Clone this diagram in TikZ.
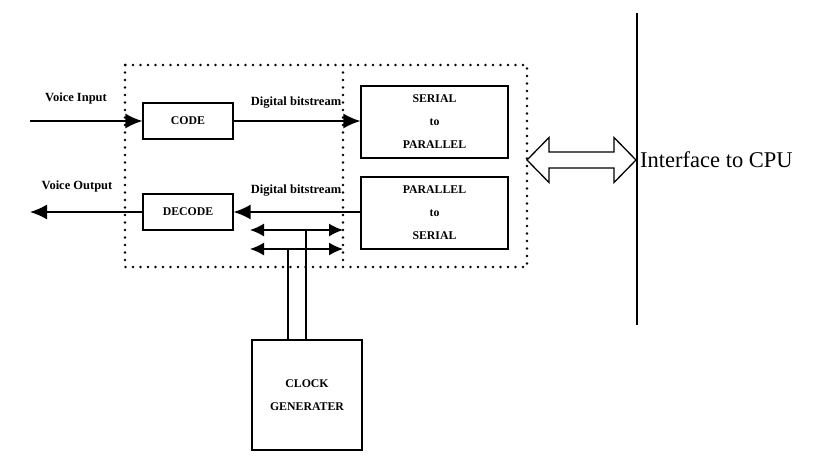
\documentclass[tikz,border=0pt]{standalone}
\usepackage{fontspec}
\setmainfont{Liberation Serif}
\usetikzlibrary{arrows.meta,calc,positioning}
\tikzset{
  blk box/.style={
    draw,
    line width=1.3pt,
    minimum width=90pt,
    minimum height=36pt,
    font=\bfseries\fontsize{11.8}{23}\selectfont,
    align=center,
    inner sep=0pt,
  },
  wide box/.style={blk box, minimum width=147pt, minimum height=72pt},
  blk label/.style={font=\bfseries\fontsize{12.5}{14}\selectfont, inner sep=1pt},
  blk arrow/.style={-{Latex[length=17pt,width=15pt]}, line width=1.5pt},
  blk both/.style={{Latex[length=14pt,width=13pt]}-{Latex[length=14pt,width=13pt]}, line width=1.5pt},
  blk line/.style={line width=1.5pt},
  dot frame/.style={line width=2.8pt, dash pattern=on 0pt off 7.5pt, line cap=round},
  hollow arrow/.style={draw, line width=1.3pt, fill=white, line join=miter},
}

\begin{document}
\begin{tikzpicture}[x=1pt,y=-1pt]
  \useasboundingbox (0,0) rectangle (813,467);

  % dotted frame round the converters
  \coordinate (frameNW) at (125,65);
  \coordinate (frameSE) at (527,267);
  \draw[dot frame] (frameNW) rectangle (frameSE);
  \draw[dot frame] (343,65) -- (343,267);

  \node[blk box] (code) at (188,121) {CODE};
  \node[blk box] (dec) at (188,212) {DECODE};
  \node[wide box] (sp) at (434.5,122) {SERIAL\\to\\PARALLEL};
  \node[wide box] (ps) at (434.5,213) {PARALLEL\\to\\SERIAL};
  \node[blk box,minimum width=110pt,minimum height=110pt] (clk) at (307,395) {CLOCK\\GENERATER};

  \node[blk label] (vinlbl) at (76,98) {Voice Input};
  \node[blk label] (voutlbl) at (77,186) {Voice Output};
  \node[blk label] (bits1) at (296,103) {Digital bitstream};
  \node[blk label] (bits2) at (296,191) {Digital bitstream};

  \coordinate (vin) at (30,121);
  \coordinate (vout) at (30,212);
  \draw[blk arrow] (vin) -- (code.west);
  \draw[blk arrow] (code.east) -- (code.east -| sp.west);
  \draw[blk arrow] (dec.east -| ps.west) -- (dec.east);
  \draw[blk arrow] (dec.west) -- (vout);

  % clock lines
  \coordinate (ck1L) at (250,230);
  \coordinate (ck1R) at (343,230);
  \coordinate (ck2L) at (250,249);
  \coordinate (ck2R) at (343,249);
  \draw[blk both] (ck1L) -- (ck1R);
  \draw[blk both] (ck2L) -- (ck2R);
  \coordinate (t1) at (306,230);
  \coordinate (t2) at (288,249);
  \draw[blk line] (t1) -- (t1 |- clk.north);
  \draw[blk line] (t2) -- (t2 |- clk.north);

  % cpu bus
  \coordinate (busTop) at (637,13);
  \coordinate (busBot) at (637,325);
  \draw[line width=1.6pt] (busTop) -- (busBot);
  \node[anchor=west,font=\fontsize{22.5}{26}\selectfont,inner sep=2pt] (cpu) at (638,160) {Interface to CPU};

  \coordinate (busL) at (527,160);
  \coordinate (busR) at (636,160);
  \draw[hollow arrow] (busL) -- ++(22,-22.5) -- ++(0,14.5) -- ($(busR)+(-22,-8)$)
    -- ++(0,-14.5) -- (busR) -- ++(-22,22.5) -- ++(0,-14.5)
    -- ($(busL)+(22,8)$) -- ++(0,14.5) -- cycle;
\end{tikzpicture}
\end{document}
